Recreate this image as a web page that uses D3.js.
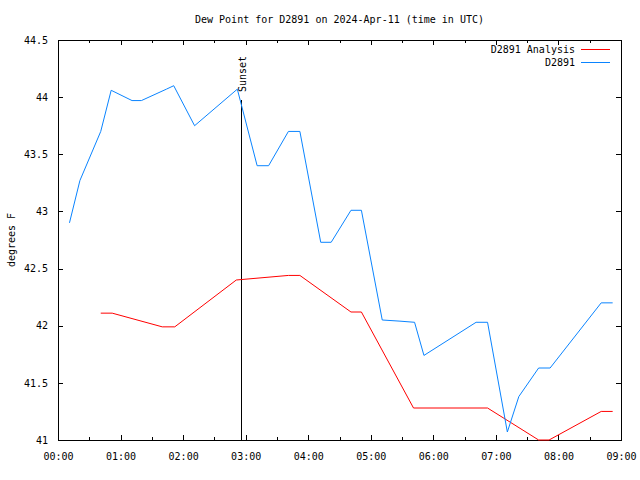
<!DOCTYPE html>
<html><head><meta charset="utf-8">
<script src="https://cdn.jsdelivr.net/npm/d3@7"></script>
<style>body{margin:0;background:#fff}text{font-family:"DejaVu Sans Mono",monospace;font-size:10px;fill:#000}</style>
</head><body>
<script>
const title = "Dew Point for D2891 on 2024-Apr-11 (time in UTC)";
const yLabel = "degrees F";
const obsTimes = ["00:11","00:21","00:41","00:51","01:11","01:20","01:44","01:51","02:11","02:52","03:11","03:22","03:41","03:52","04:12","04:22","04:41","04:51","05:11","05:28","05:42","05:51","06:41","06:52","07:11","07:22","07:41","07:52","08:41","08:52"];
const obsValues = [42.90,43.27,43.70,44.06,43.97,43.97,44.07,44.10,43.75,44.07,43.40,43.40,43.70,43.70,42.73,42.73,43.01,43.01,42.05,42.04,42.03,41.74,42.03,42.03,41.07,41.38,41.63,41.63,42.20,42.20];
const anaTimes = ["00:41","00:52","01:40","01:52","02:51","03:41","03:52","04:41","04:51","05:41","06:52","07:41","07:51","08:41","08:52"];
const anaValues = [42.11,42.11,41.99,41.99,42.40,42.44,42.44,42.12,42.12,41.28,41.28,41.00,41.00,41.25,41.25];
const sunsetTime = "02:56";
const xTickLabels = ["00:00","01:00","02:00","03:00","04:00","05:00","06:00","07:00","08:00","09:00"];
const yTicks = [41,41.5,42,42.5,43,43.5,44,44.5];
const seriesNames = ["D2891 Analysis","D2891"];
const seriesColors = ["#ff0000","#0a84ff"];

const W=640,H=480, L=58,R=621,T=40,B=440;
const parse = s => d3.utcParse("%Y-%m-%d %H:%M")("2024-04-11 "+s);
const svg = d3.select("body").append("svg").attr("width",W).attr("height",H);
const x = d3.scaleUtc().domain([parse("00:00"),parse("09:00")]).range([L,R]);
const y = d3.scaleLinear().domain([41,44.5]).range([B,T]);

// axes
const majorX = xTickLabels.map(parse);
const minorX = d3.range(0,9).map(h=>parse(String(h).padStart(2,"0")+":30"));
const fmt = d3.utcFormat("%H:%M");
svg.append("g").attr("transform",`translate(0,${B})`)
  .call(d3.axisBottom(x).tickValues(majorX).tickFormat(fmt).tickSizeInner(-5).tickSizeOuter(0).tickPadding(13));
svg.append("g").attr("transform",`translate(0,${B})`)
  .call(d3.axisBottom(x).tickValues(minorX).tickFormat("").tickSizeInner(-3).tickSizeOuter(0));
svg.append("g").attr("transform",`translate(0,${T})`)
  .call(d3.axisTop(x).tickValues(majorX).tickFormat("").tickSizeInner(-5).tickSizeOuter(0));
svg.append("g").attr("transform",`translate(0,${T})`)
  .call(d3.axisTop(x).tickValues(minorX).tickFormat("").tickSizeInner(-3).tickSizeOuter(0));
svg.append("g").attr("transform",`translate(${L},0)`)
  .call(d3.axisLeft(y).tickValues(yTicks).tickFormat(d=>String(d)).tickSizeInner(-5).tickSizeOuter(0).tickPadding(10));
svg.append("g").attr("transform",`translate(${R},0)`)
  .call(d3.axisRight(y).tickValues(yTicks).tickFormat("").tickSizeInner(-5).tickSizeOuter(0));
svg.selectAll(".domain").remove();
svg.selectAll(".tick line").attr("stroke","#000").attr("shape-rendering","crispEdges");
svg.selectAll(".tick text").attr("font-family","DejaVu Sans Mono").attr("font-size",10).attr("fill","#000");
svg.append("rect").attr("x",L+0.5).attr("y",T+0.5).attr("width",R-L).attr("height",B-T)
  .attr("fill","none").attr("stroke","#000").attr("shape-rendering","crispEdges");

// sunset
const sx = x(parse(sunsetTime));
svg.append("line").attr("x1",sx).attr("x2",sx).attr("y1",B).attr("y2",B-0.85*(B-T))
  .attr("stroke","#000").attr("shape-rendering","crispEdges");
svg.append("text").attr("transform",`translate(${sx+5},${B-0.87*(B-T)}) rotate(-90)`).text("Sunset");

// lines
const line = d3.line().x(d=>x(d[0])).y(d=>y(d[1]));
const ana = anaTimes.map((t,i)=>[parse(t),anaValues[i]]);
const obs = obsTimes.map((t,i)=>[parse(t),obsValues[i]]);
svg.append("path").datum(ana).attr("d",line).attr("fill","none").attr("stroke",seriesColors[0]).attr("stroke-width",1);
svg.append("path").datum(obs).attr("d",line).attr("fill","none").attr("stroke",seriesColors[1]).attr("stroke-width",1);

// legend
seriesNames.forEach((n,i)=>{
  const ly = 49.5+13*i;
  svg.append("text").attr("x",575).attr("y",ly+3.5).attr("text-anchor","end").text(n);
  svg.append("line").attr("x1",581).attr("x2",610).attr("y1",ly).attr("y2",ly).attr("stroke",seriesColors[i]).attr("shape-rendering","crispEdges");
});

// title and y label
svg.append("text").attr("x",(L+R)/2).attr("y",23).attr("text-anchor","middle").text(title);
svg.append("text").attr("transform",`translate(15,${(T+B)/2}) rotate(-90)`).attr("text-anchor","middle").text(yLabel);
</script>
</body></html>
